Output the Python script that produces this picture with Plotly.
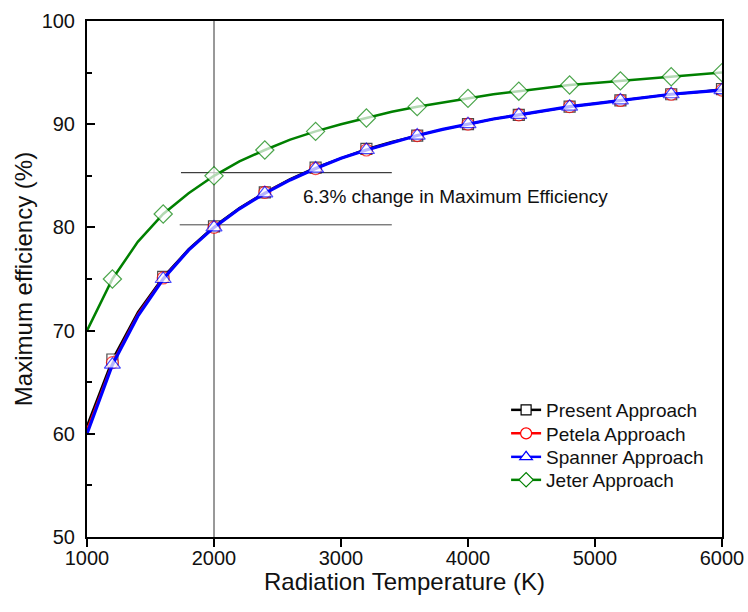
import plotly.graph_objects as go

temperature = [1000, 1200, 1400, 1600, 1800, 2000, 2200, 2400, 2600, 2800, 3000, 3200, 3400,
               3600, 3800, 4000, 4200, 4400, 4600, 4800, 5000, 5200, 5400, 5600, 5800, 6000]
present = [60.8, 67.2, 71.8, 75.2, 77.9, 80.1, 81.9, 83.4, 84.7, 85.8, 86.7, 87.6, 88.3,
           88.9, 89.5, 90.0, 90.5, 90.9, 91.3, 91.7, 92.0, 92.3, 92.6, 92.9, 93.1, 93.4]
petela = [60.4, 66.9, 71.6, 75.1, 77.8, 80.0, 81.8, 83.4, 84.6, 85.7, 86.7, 87.5, 88.2,
          88.9, 89.5, 90.0, 90.5, 90.9, 91.3, 91.7, 92.0, 92.3, 92.6, 92.9, 93.1, 93.3]
spanner = [60.0, 66.7, 71.4, 75.0, 77.8, 80.0, 81.8, 83.3, 84.6, 85.7, 86.7, 87.5, 88.2,
           88.9, 89.5, 90.0, 90.5, 90.9, 91.3, 91.7, 92.0, 92.3, 92.6, 92.9, 93.1, 93.3]
jeter = [70.0, 75.0, 78.6, 81.3, 83.3, 85.0, 86.4, 87.5, 88.5, 89.3, 90.0, 90.6, 91.2,
         91.7, 92.1, 92.5, 92.9, 93.2, 93.5, 93.8, 94.0, 94.2, 94.4, 94.6, 94.8, 95.0]
marker_temps = [1200, 1600, 2000, 2400, 2800, 3200, 3600, 4000, 4400, 4800, 5200, 5600, 6000]

series_names = ["Present Approach", "Petela Approach", "Spanner Approach", "Jeter Approach"]
x_tick_labels = ["1000", "2000", "3000", "4000", "5000", "6000"]
y_tick_labels = ["50", "60", "70", "80", "90", "100"]
x_title = "Radiation Temperature (K)"
y_title = "Maximum efficiency (%)"

annotation_text = "6.3% change in Maximum Efficiency"
ref_temp = 2000
upper_eff = 85.3
lower_eff = 80.25

FONT = "Liberation Sans, Arial, sans-serif"

styles = [
    dict(color="#000000", symbol="square", width=2, msize=11),
    dict(color="#ff0000", symbol="circle", width=2, msize=12),
    dict(color="#0000ff", symbol="triangle-up", width=3.2, msize=14),
    dict(color="#008000", symbol="diamond", width=2.5, msize=14),
]
legend_ids = ["legend", "legend2", "legend3", "legend4"]
legend_rows_px = [410, 433.5, 457, 480]  # vertical centres of legend rows (pixels from top)

PLOT_TOP, PLOT_BOTTOM = 21, 537
def py(px):
    return (PLOT_BOTTOM - px) / (PLOT_BOTTOM - PLOT_TOP)

fig = go.Figure()
for name, vals, st in zip(series_names, [present, petela, spanner, jeter], styles):
    sizes = [st["msize"] if t in marker_temps else 0 for t in temperature]
    fig.add_trace(go.Scatter(
        x=temperature, y=vals, name=name, mode="lines+markers", showlegend=False,
        line=dict(color=st["color"], width=st["width"]),
        marker=dict(symbol=st["symbol"], size=sizes,
                    color="white", line=dict(color=st["color"], width=1.2)),
    ))
for name, st, lid in zip(series_names, styles, legend_ids):
    fig.add_trace(go.Scatter(
        x=[None], y=[None], name=name, mode="lines+markers", showlegend=True, legend=lid,
        line=dict(color=st["color"], width=2.5),
        marker=dict(symbol=st["symbol"], size=min(st["msize"], 12) - 1,
                    color="white", line=dict(color=st["color"], width=1.2)),
    ))

# reference lines
fig.add_shape(type="line", xref="x", yref="y", x0=ref_temp, x1=ref_temp, y0=50, y1=100,
              line=dict(color="#333333", width=1), layer="below")
fig.add_shape(type="line", xref="x", yref="y", x0=1740, x1=3400, y0=upper_eff, y1=upper_eff,
              line=dict(color="#111111", width=1), layer="below")
fig.add_shape(type="line", xref="x", yref="y", x0=1730, x1=3400, y0=lower_eff, y1=lower_eff,
              line=dict(color="#444444", width=1), layer="below")

fig.add_annotation(x=2685, y=83.0, xref="x", yref="y", text=annotation_text,
                   showarrow=False, xanchor="left", yanchor="middle",
                   font=dict(family=FONT, size=19, color="#111111"))

# x-axis title placed as paper annotation (centred under the plot)
fig.add_annotation(x=0.5, y=py(581), xref="paper", yref="paper", text=x_title,
                   showarrow=False, xanchor="center", yanchor="middle",
                   font=dict(family=FONT, size=24, color="#111111"))

legend_common = dict(x=0.660, xanchor="left", yanchor="middle",
                     bgcolor="rgba(0,0,0,0)", borderwidth=0,
                     font=dict(family=FONT, size=19, color="#111111"))
layout_legends = {lid: dict(legend_common, y=py(row)) for lid, row in zip(legend_ids, legend_rows_px)}

fig.update_layout(
    width=748, height=612,
    margin=dict(l=87, r=26, t=PLOT_TOP, b=612 - PLOT_BOTTOM),
    paper_bgcolor="white", plot_bgcolor="white",
    font=dict(family=FONT, color="#111111"),
    showlegend=True,
    **layout_legends,
    xaxis=dict(
        range=[1000, 6000], tickvals=[int(v) for v in x_tick_labels], ticktext=x_tick_labels,
        showgrid=False, zeroline=False, automargin=False,
        showline=True, linecolor="black", linewidth=2, mirror=True,
        ticks="outside", ticklen=8, tickwidth=2, tickcolor="black",
        tickfont=dict(family=FONT, size=20, color="#111111"),
        ticklabelstandoff=-6,
    ),
    yaxis=dict(
        range=[50, 100], tickvals=[int(v) for v in y_tick_labels], ticktext=y_tick_labels,
        showgrid=False, zeroline=False, automargin=False,
        showline=True, linecolor="black", linewidth=2, mirror=True,
        ticks="inside", ticklen=8, tickwidth=2, tickcolor="black",
        minor=dict(ticks="inside", ticklen=5, tickwidth=2, tickcolor="black", dtick=5, showgrid=False),
        tickfont=dict(family=FONT, size=20, color="#111111"),
        ticklabelstandoff=6,
        title=dict(text=y_title, font=dict(family=FONT, size=24, color="#111111"),
                   standoff=2),
    ),
)

fig.write_html("out.html", post_script="document.body.style.margin='0';",
               config={"displayModeBar": False})
